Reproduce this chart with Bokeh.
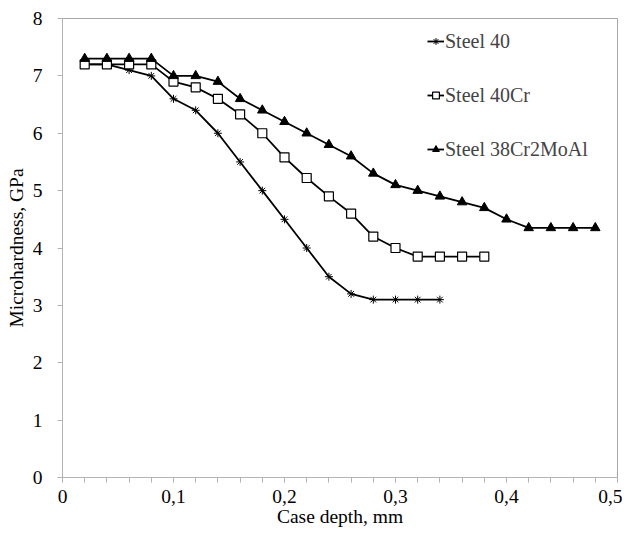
from bokeh.plotting import figure
from bokeh.models import FixedTicker, Legend, LegendItem, Range1d
from bokeh.embed import file_html
from bokeh.resources import INLINE
import numpy as np

# ---- data ----
depth_40 = [0.02, 0.04, 0.06, 0.08, 0.10, 0.12, 0.14, 0.16, 0.18, 0.20,
            0.22, 0.24, 0.26, 0.28, 0.30, 0.32, 0.34]
hard_40 = [7.2, 7.2, 7.1, 7.0, 6.6, 6.4, 6.0, 5.5, 5.0, 4.5,
           4.0, 3.5, 3.2, 3.1, 3.1, 3.1, 3.1]

depth_40cr = [0.02, 0.04, 0.06, 0.08, 0.10, 0.12, 0.14, 0.16, 0.18, 0.20,
              0.22, 0.24, 0.26, 0.28, 0.30, 0.32, 0.34, 0.36, 0.38]
hard_40cr = [7.2, 7.2, 7.2, 7.2, 6.9, 6.8, 6.6, 6.33, 6.0, 5.58,
             5.22, 4.9, 4.6, 4.2, 4.0, 3.85, 3.85, 3.85, 3.85]

depth_38 = [0.02, 0.04, 0.06, 0.08, 0.10, 0.12, 0.14, 0.16, 0.18, 0.20,
            0.22, 0.24, 0.26, 0.28, 0.30, 0.32, 0.34, 0.36, 0.38, 0.40,
            0.42, 0.44, 0.46, 0.48]
hard_38 = [7.3, 7.3, 7.3, 7.3, 7.0, 7.0, 6.9, 6.6, 6.4, 6.2,
           6.0, 5.8, 5.6, 5.3, 5.1, 5.0, 4.9, 4.8, 4.7, 4.5,
           4.35, 4.35, 4.35, 4.35]

series_names = ["Steel 40", "Steel 40Cr", "Steel 38Cr2MoAl"]

x_ticks = [0, 0.1, 0.2, 0.3, 0.4, 0.5]
x_tick_labels = ["0", "0,1", "0,2", "0,3", "0,4", "0,5"]
y_ticks = [0, 1, 2, 3, 4, 5, 6, 7, 8]
y_tick_labels = ["0", "1", "2", "3", "4", "5", "6", "7", "8"]

x_title = "Case depth, mm"
y_title = "Microhardness, GPa"

FONT = "Liberation Serif"
AXIS_GRAY = "#b3b3b3"

p = figure(width=622, height=529, output_backend="svg", toolbar_location=None,
           x_range=Range1d(0, 0.5), y_range=Range1d(0, 8),
           min_border_left=62, min_border_right=5, min_border_top=18,
           min_border_bottom=52)

p.xgrid.visible = False
p.ygrid.visible = False
p.outline_line_color = "#a6a6a6"
p.outline_line_width = 1
p.background_fill_color = "white"
p.border_fill_color = "white"

minor_x = [round(v, 2) for v in np.arange(0, 0.5001, 0.02)]
p.xaxis.ticker = FixedTicker(ticks=x_ticks, minor_ticks=minor_x)
p.xaxis.major_label_overrides = {t: l for t, l in zip(x_ticks, x_tick_labels)}
p.yaxis.ticker = FixedTicker(ticks=y_ticks)
p.yaxis.major_label_overrides = {t: l for t, l in zip(y_ticks, y_tick_labels)}

for ax in (p.xaxis[0], p.yaxis[0]):
    ax.axis_line_color = AXIS_GRAY
    ax.major_tick_line_color = AXIS_GRAY
    ax.minor_tick_line_color = AXIS_GRAY
    ax.major_tick_in = 0
    ax.major_tick_out = 5
    ax.minor_tick_in = 0
    ax.minor_tick_out = 5
    ax.major_label_text_font = FONT
    ax.major_label_text_font_size = "19.5px"
    ax.major_label_text_color = "black"
    ax.axis_label_text_font = FONT
    ax.axis_label_text_font_size = "19.5px"
    ax.axis_label_text_font_style = "normal"
    ax.axis_label_text_color = "black"

p.yaxis.minor_tick_out = 0
p.xaxis.axis_label = x_title
p.yaxis.axis_label = y_title
p.xaxis.major_label_standoff = 7
p.xaxis.axis_label_standoff = 0
p.yaxis.major_label_standoff = 15
p.yaxis.axis_label_standoff = 3

LW = 1.8
l1 = p.line(depth_40, hard_40, line_color="black", line_width=LW)
m1 = p.scatter(depth_40, hard_40, marker="asterisk", size=8, line_color="black",
               line_width=1)
l2 = p.line(depth_40cr, hard_40cr, line_color="black", line_width=LW)
m2 = p.scatter(depth_40cr, hard_40cr, marker="square", size=9, line_color="black",
               fill_color="white", line_width=1.2)
l3 = p.line(depth_38, hard_38, line_color="black", line_width=LW)
m3 = p.scatter(depth_38, hard_38, marker="triangle", size=9.5, line_color="black",
               fill_color="black")

legend = Legend(items=[
    LegendItem(label=series_names[0], renderers=[l1, m1]),
    LegendItem(label=series_names[1], renderers=[l2, m2]),
    LegendItem(label=series_names[2], renderers=[l3, m3]),
], location=(360, 311))
legend.background_fill_alpha = 0
legend.border_line_alpha = 0
legend.label_text_font = FONT
legend.label_text_font_size = "20px"
legend.label_height = 24
legend.glyph_height = 20
legend.glyph_width = 17
legend.label_standoff = 1
legend.spacing = 30
legend.padding = 5
p.add_layout(legend, "center")

open("out.html", "w").write(file_html(p, INLINE))
